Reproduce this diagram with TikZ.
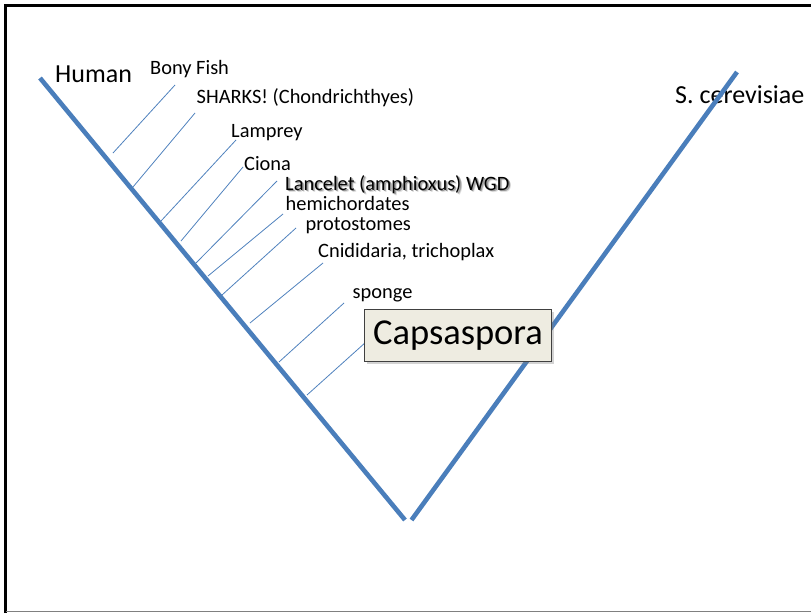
\documentclass[tikz,border=0pt]{standalone}
\usepackage{fontspec}
\setmainfont{Carlito}
\usetikzlibrary{shadows}
\definecolor{treeblue}{RGB}{74,126,187}
\definecolor{thinblue}{RGB}{79,129,189}
\definecolor{boxfill}{RGB}{238,236,225}
\tikzset{
  thick branch/.style={draw=treeblue, line width=4.6pt},
  thin branch/.style={draw=thinblue, line width=0.8pt},
  lbl/.style={anchor=base west, inner sep=0pt, font=\fontsize{20.4}{24}\selectfont},
  biglbl/.style={anchor=base west, inner sep=0pt, font=\fontsize{26}{30}\selectfont},
}
\begin{document}
\begin{tikzpicture}[x=1pt,y=-1pt]
\useasboundingbox (0,0) rectangle (811,613);
% frame
\draw[black, line width=3pt] (5.5,613) -- (5.5,5.5) -- (811,5.5);
\draw[gray, line width=1.2pt] (5.5,611.5) -- (811,611.5);
% main V
\coordinate (hTop) at (40,78);
\coordinate (hBot) at (405,520);
\coordinate (sTop) at (737,72);
\coordinate (sBot) at (411.5,520);
\draw[thick branch] (hTop) -- (hBot);
% labels
\node[biglbl] (human) at (55,82.5) {Human};
\node[lbl] (bony) at (150,74) {Bony Fish};
\node[lbl] (sharks) at (196.5,103) {SHARKS! (Chondrichthyes)};
\node[lbl] (lamprey) at (231,137) {Lamprey};
\node[lbl] (ciona) at (244,170) {Ciona};
\foreach \d/\o in {2.4/0.12,1.8/0.18,1.2/0.25}{
  \node[lbl, text=black, opacity=\o] at (285+\d,190+\d) {Lancelet (amphioxus) WGD};
}
\node[lbl] (lancelet) at (285,190) {Lancelet (amphioxus) WGD};
\node[lbl] (hemi) at (285.5,210) {hemichordates};
\node[lbl] (proto) at (305.5,230) {protostomes};
\node[lbl] (cnid) at (318,257) {Cnididaria, trichoplax};
\node[lbl] (sponge) at (352.5,298) {sponge};
\node[biglbl] (scer) at (675,103.5) {S. cerevisiae};
\draw[thick branch] (sBot) -- (sTop);
% thin branches
\coordinate (b1s) at (175,85);  \coordinate (b1e) at (113,153);
\coordinate (b2s) at (195,113); \coordinate (b2e) at (133,187);
\coordinate (b3s) at (236,140); \coordinate (b3e) at (161,221);
\coordinate (b4s) at (243,167); \coordinate (b4e) at (181,241);
\coordinate (b5s) at (277,181); \coordinate (b5e) at (196,263);
\coordinate (b6s) at (283,214); \coordinate (b6e) at (208,276);
\coordinate (b7s) at (296,228); \coordinate (b7e) at (222,295);
\coordinate (b8s) at (323,263); \coordinate (b8e) at (250,323);
\coordinate (b9s) at (344,303); \coordinate (b9e) at (279,362);
\coordinate (b10s) at (366,342); \coordinate (b10e) at (307,395);
\foreach \i in {1,...,10}{\draw[thin branch] (b\i s) -- (b\i e);}
% Capsaspora box
\node[draw=black!75, line width=1pt, fill=boxfill, drop shadow={shadow xshift=2pt, shadow yshift=-2pt, opacity=0.35},
      minimum width=187pt, minimum height=52pt, inner sep=0pt,
      font=\fontsize{36.5}{40}\selectfont] (caps) at (458,335.5) {Capsaspora};
\end{tikzpicture}
\end{document}
